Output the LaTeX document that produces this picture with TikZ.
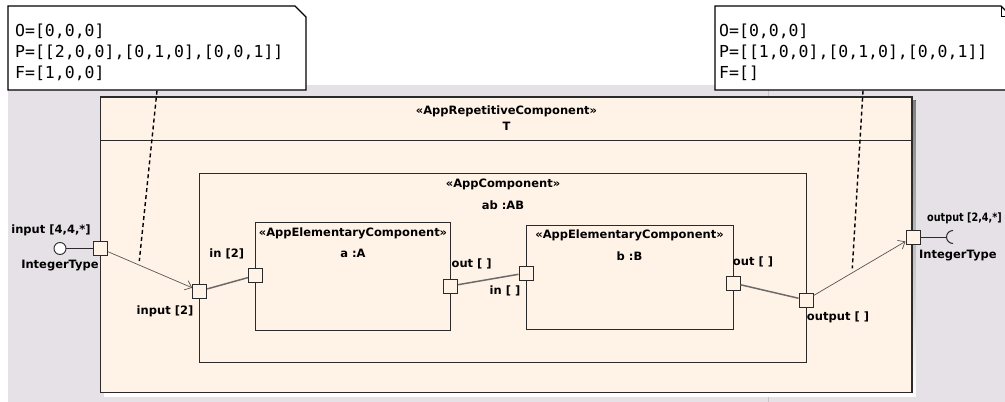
\documentclass[tikz,border=0pt]{standalone}
\usepackage{fontspec}
\setmainfont{DejaVu Sans}
\newfontfamily\notefont{DejaVu Sans Mono}
\usetikzlibrary{arrows.meta}
\definecolor{canvas}{HTML}{E6E1E7}
\definecolor{partfill}{HTML}{FFF2E6}
\definecolor{shade}{HTML}{C4BEC6}
\definecolor{wire}{HTML}{6E6A6A}
\definecolor{edge}{HTML}{2A2A2A}

\tikzset{
  lbl/.style={font=\bfseries\fontsize{11.5}{13}\selectfont, inner sep=0pt,
              text height=8.4pt, text depth=2.4pt},
  notetxt/.style={font=\notefont\fontsize{16.5}{20}\selectfont, inner sep=0pt, anchor=base west},
  part/.style={draw=edge, line width=1pt},
  port/.style={draw=edge, fill=partfill, line width=1pt, minimum size=14pt,
               inner sep=0pt, rectangle},
  wiring/.style={draw=wire, line width=1.5pt},
  delegate/.style={draw=edge!80, line width=0.7pt,
                   -{Straight Barb[length=6pt,width=10pt,line width=0.7pt]}},
  anchorline/.style={draw=black, line width=1.4pt, dash pattern=on 4pt off 3pt},
  notebox/.style={draw=black, fill=white, line width=1.4pt},
}

\begin{document}
\begin{tikzpicture}[x=1pt,y=-1pt]
\useasboundingbox (0,0) rectangle (1005,402);
\clip (0,0) rectangle (1005,402);
\fill[white] (0,0) rectangle (1005,402);
\fill[canvas] (8,85) rectangle (1005,402);
\draw[gray!45, line width=0.8pt] (768,85) -- (768,96) (768,396) -- (768,402);

% repetitive component T
\fill[shade] (104,100) rectangle (915.5,396);
\draw[fill=partfill, draw=edge, line width=1.8pt] (100.5,96.7) rectangle (912,392.5);
\draw[edge, line width=1pt] (100.5,140) -- (912,140);
\node[lbl] (tst) at (506.5,111.5) {«AppRepetitiveComponent»};
\node[lbl] (tname) at (506.5,127) {T};

% component ab
\draw[part] (199.5,173.7) rectangle (806,362.7);
\node[lbl] (abst) at (503,184) {«AppComponent»};
\node[lbl] (abname) at (503,206) {ab :AB};

% elementary components a and b
\draw[part] (255.6,222) rectangle (450.7,330);
\node[lbl] (ast) at (353,233) {«AppElementaryComponent»};
\node[lbl] (aname) at (353,254) {a :A};
\draw[part] (526,225) rectangle (733,329);
\node[lbl] (bst) at (629.5,235) {«AppElementaryComponent»};
\node[lbl] (bname) at (629.5,257) {b :B};

% ports
\node[port] (pin)  at (100.5,248.5) {};
\node[port] (ain)  at (199.7,291) {};
\node[port] (ina)  at (255.5,275.5) {};
\node[port] (outa) at (450.5,286) {};
\node[port] (inb)  at (526,273) {};
\node[port] (outb) at (733,283) {};
\node[port] (aout) at (806,300) {};
\node[port] (pout) at (913,237) {};

% provided and required interfaces
\node[circle, draw=edge, fill=white, line width=0.9pt, minimum size=12pt, inner sep=0pt] (lolli) at (60,248.5) {};
\draw[edge, line width=1pt] (lolli) -- (pin);
\coordinate (sock) at (946.5,237);
\draw[edge, line width=1pt] (pout) -- (sock);
\draw[edge, line width=1pt] (953,243.5) arc[start angle=90, end angle=270, radius=6.5];

% connectors
\draw[delegate] (pin) -- (ain);
\draw[wiring] (ain) -- (ina);
\draw[wiring] (outa) -- (inb);
\draw[wiring] (outb) -- (aout);
\draw[delegate] (aout) -- (pout);

% port labels
\node[lbl] (lpin) at (51,230) {input [4,4,*]};
\node[lbl] (lpint) at (60,265) {IntegerType};
\node[lbl] (lain) at (165,311.7) {input [2]};
\node[lbl] (lina) at (226.7,254) {in [2]};
\node[lbl] (louta) at (471.7,264) {out [ ]};
\node[lbl] (linb) at (505,291) {in [ ]};
\node[lbl] (loutb) at (753,262.7) {out [ ]};
\node[lbl] (laout) at (838,317.7) {output [ ]};
\node[lbl, anchor=west] (lpout) at (927,218) {\scalebox{0.84}[1]{output [2,4,*]}};
\node[lbl, anchor=west] (lpoutt) at (919,255) {IntegerType};

% constraint notes
\draw[notebox] (8,6) -- (295,6) -- (306,17) -- (306,90) -- (8,90) -- cycle;
\node[notetxt] (n1a) at (15,36.5) {O=[0,0,0]};
\node[notetxt] (n1b) at (15,57) {P=[[2,0,0],[0,1,0],[0,0,1]]};
\node[notetxt] (n1c) at (15,78) {F=[1,0,0]};
\draw[notebox] (715,6) -- (1001,6) -- (1012,17) -- (1012,90) -- (715,90) -- cycle;
\draw[black, line width=1pt] (1001.5,6) -- (1001.5,16.5) -- (1005,16.5);
\node[notetxt] (n2a) at (719,36.5) {O=[0,0,0]};
\node[notetxt] (n2b) at (719,57) {P=[[1,0,0],[0,1,0],[0,0,1]]};
\node[notetxt] (n2c) at (719,78) {F=[]};

\coordinate (n1foot) at (157,90.7);
\coordinate (n1tip) at (139.3,261);
\coordinate (n2foot) at (863,90.7);
\coordinate (n2tip) at (852.3,268.3);
\draw[anchorline] (n1foot) -- (n1tip);
\draw[anchorline] (n2foot) -- (n2tip);
\end{tikzpicture}
\end{document}
